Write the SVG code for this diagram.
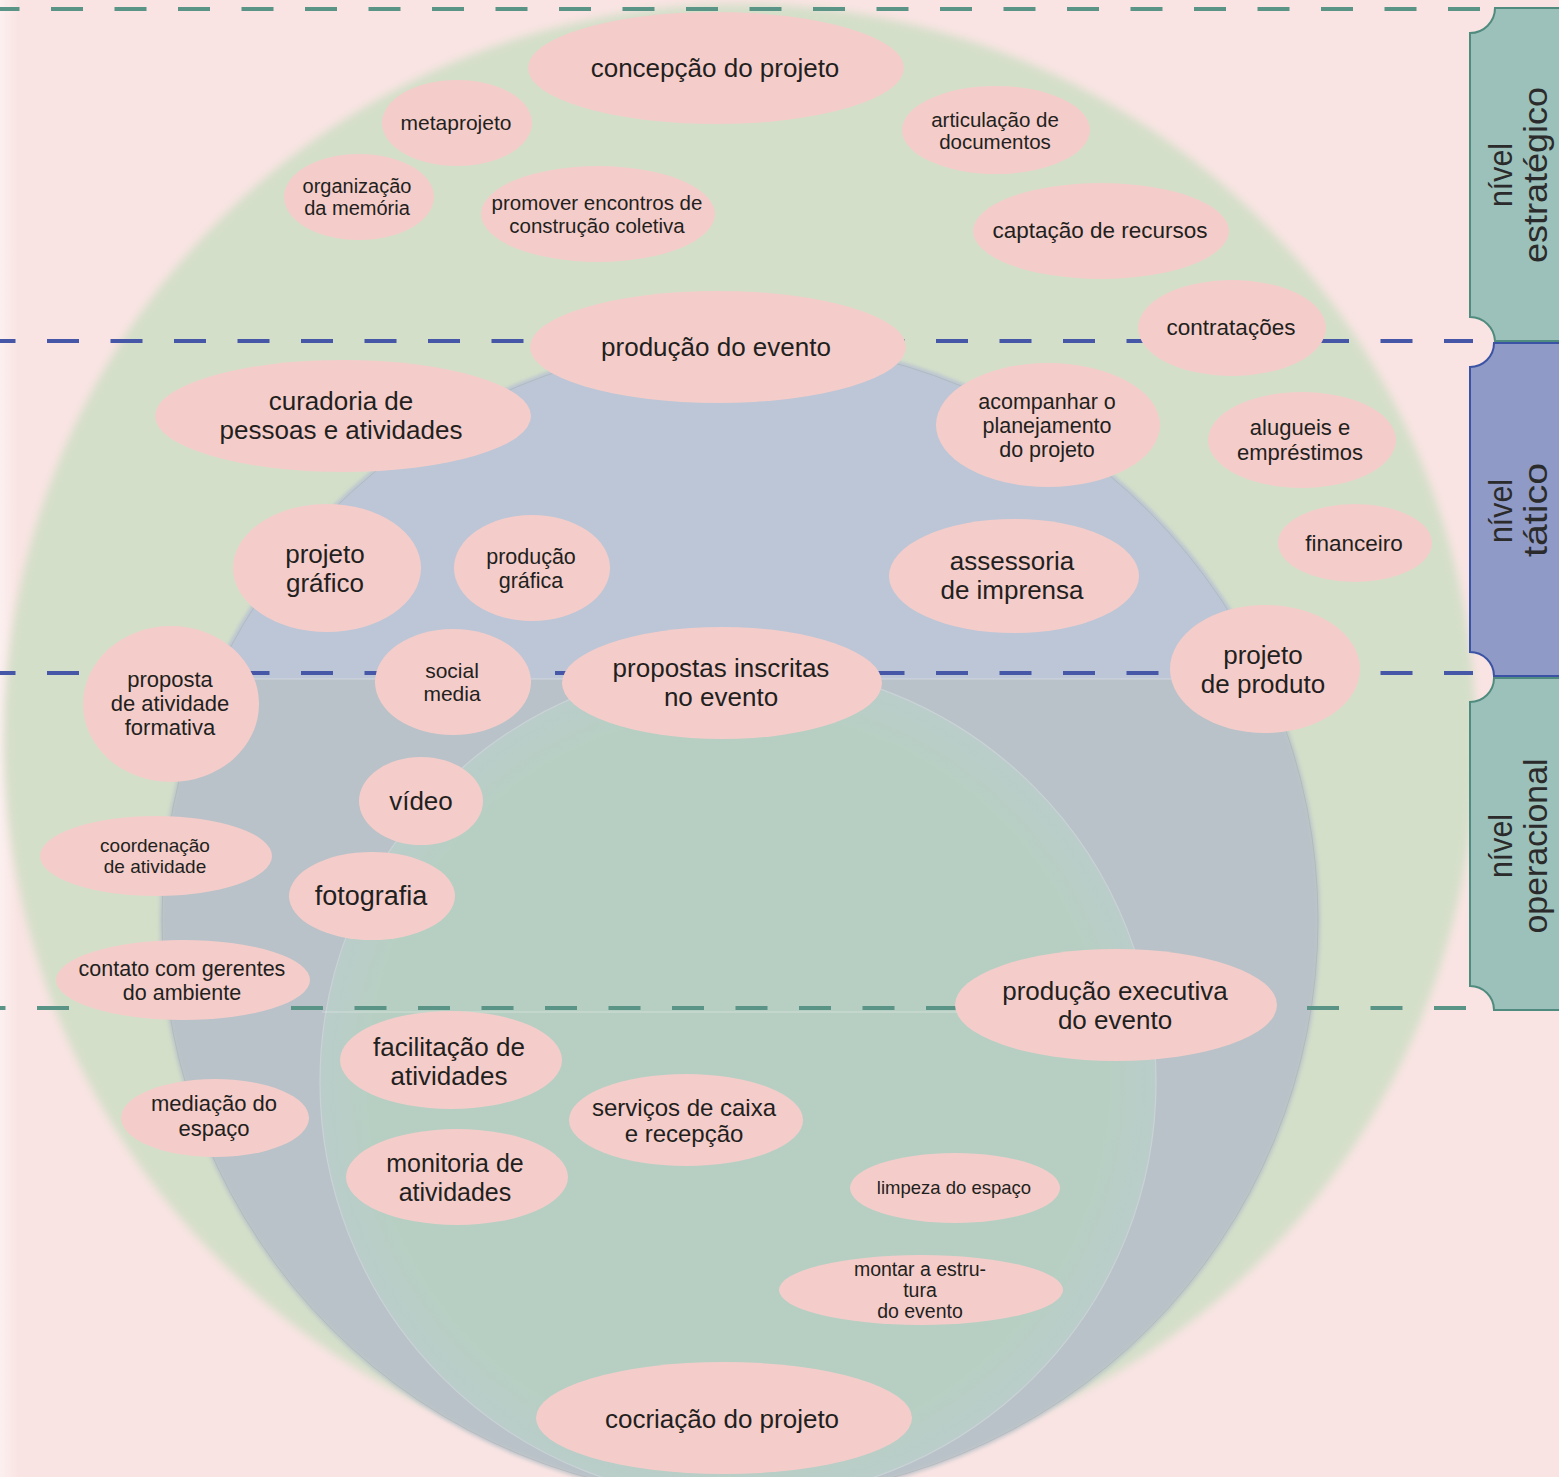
<svg xmlns="http://www.w3.org/2000/svg" width="1559" height="1477" viewBox="0 0 1559 1477">
<style>
.node ellipse{fill:#f4cdca}
.node text{font-family:"Liberation Sans",Arial,sans-serif;fill:#231f20;text-anchor:middle}
.l{font-size:26px}.s{font-size:21px}.m{font-size:22.5px}.xs{font-size:19px}
.dash{stroke-width:4;stroke-dasharray:32 31.5;fill:none}
.tab text{font-family:"Liberation Sans",Arial,sans-serif;font-size:34px;fill:#2b2b2b;text-anchor:middle}
</style>
<defs>
<filter id="soft" x="-5%" y="-5%" width="110%" height="110%"><feGaussianBlur stdDeviation="4"/></filter>
<filter id="soft2" x="-5%" y="-5%" width="110%" height="110%"><feGaussianBlur stdDeviation="2"/></filter>
<clipPath id="tact"><rect x="0" y="0" width="1559" height="679"/></clipPath>
<radialGradient id="inner" cx="738" cy="1082" r="418" gradientUnits="userSpaceOnUse">
<stop offset="0.88" stop-color="#b7cfc3"/><stop offset="1" stop-color="#bacdca"/>
</radialGradient>
<linearGradient id="leftfade" x1="0" x2="1" y1="0" y2="0">
<stop offset="0" stop-color="#ffffff" stop-opacity="0.45"/><stop offset="1" stop-color="#ffffff" stop-opacity="0"/>
</linearGradient>
</defs>
<rect width="1559" height="1477" fill="#f9e4e3"/>
<rect width="18" height="1477" fill="url(#leftfade)"/>
<g id="rings">
<circle cx="740" cy="740" r="736" fill="#d4dfc9" filter="url(#soft)"/>
<circle cx="740" cy="920" r="580" fill="#b9c2c8" filter="url(#soft2)"/>
<circle cx="740" cy="920" r="580" fill="#bcc6d6" clip-path="url(#tact)" filter="url(#soft2)"/>
<circle cx="740" cy="920" r="578" fill="none" stroke="#a3adb3" stroke-width="0.8" stroke-opacity="0.6"/>
<circle cx="738" cy="1082" r="418" fill="url(#inner)" stroke="#c9d3d6" stroke-width="1.2"/>
<line x1="168" y1="679" x2="1312" y2="679" stroke="#ffffff" stroke-opacity="0.35" stroke-width="1.2"/>
<line x1="322" y1="1012" x2="1154" y2="1012" stroke="#ffffff" stroke-opacity="0.35" stroke-width="1.2"/>
</g>
<g id="connectors">
<line class="dash" x1="0" y1="9" x2="1486" y2="9" stroke="#5a9486" stroke-dashoffset="12.5"/>
<line class="dash" x1="0" y1="341" x2="1473" y2="341" stroke="#4557a6" stroke-dashoffset="16.5"/>
<line class="dash" x1="0" y1="673" x2="1473" y2="673" stroke="#4557a6" stroke-dashoffset="16.5"/>
<line class="dash" x1="0" y1="1008" x2="1473" y2="1008" stroke="#5a9486" stroke-dashoffset="26.5"/>
</g>
<g id="n1" class="node"><ellipse cx="716" cy="68" rx="188" ry="56"/><text class="l" x="715" y="77">concepção do projeto</text></g>
<g id="n2" class="node"><ellipse cx="457" cy="123" rx="75" ry="43"/><text class="s" x="456" y="130">metaprojeto</text></g>
<g id="n3" class="node"><ellipse cx="359" cy="197" rx="75" ry="43"/><text class="s" style="font-size:20px" x="357"><tspan x="357" y="193">organização</tspan><tspan x="357" y="215">da memória</tspan></text></g>
<g id="n4" class="node"><ellipse cx="598" cy="214" rx="117" ry="48"/><text style="font-size:20.5px" x="597"><tspan x="597" y="210">promover encontros de</tspan><tspan x="597" y="233">construção coletiva</tspan></text></g>
<g id="n5" class="node"><ellipse cx="996" cy="130" rx="94" ry="44"/><text style="font-size:20.5px" x="995"><tspan x="995" y="127">articulação de</tspan><tspan x="995" y="149">documentos</tspan></text></g>
<g id="n6" class="node"><ellipse cx="1101" cy="231" rx="128" ry="48"/><text class="m" x="1100" y="238">captação de recursos</text></g>
<g id="n7" class="node"><ellipse cx="718" cy="347" rx="188" ry="56"/><text class="l" x="716" y="356">produção do evento</text></g>
<g id="n8" class="node"><ellipse cx="1232" cy="328" rx="94" ry="48"/><text class="m" x="1231" y="335">contratações</text></g>
<g id="n9" class="node"><ellipse cx="343" cy="416" rx="188" ry="56"/><text class="l" x="341"><tspan x="341" y="410">curadoria de</tspan><tspan x="341" y="439">pessoas e atividades</tspan></text></g>
<g id="n10" class="node"><ellipse cx="1048" cy="425" rx="112" ry="62"/><text style="font-size:21.5px" x="1047"><tspan x="1047" y="409">acompanhar o</tspan><tspan x="1047" y="433">planejamento</tspan><tspan x="1047" y="457">do projeto</tspan></text></g>
<g id="n11" class="node"><ellipse cx="1302" cy="440" rx="94" ry="48"/><text style="font-size:22px" x="1300"><tspan x="1300" y="435">alugueis e</tspan><tspan x="1300" y="460">empréstimos</tspan></text></g>
<g id="n12" class="node"><ellipse cx="1355" cy="543" rx="77" ry="39"/><text class="m" x="1354" y="551">financeiro</text></g>
<g id="n13" class="node"><ellipse cx="327" cy="568" rx="94" ry="64"/><text class="l" x="325"><tspan x="325" y="563">projeto</tspan><tspan x="325" y="592">gráfico</tspan></text></g>
<g id="n14" class="node"><ellipse cx="532" cy="568" rx="78" ry="53"/><text style="font-size:21.5px" x="531"><tspan x="531" y="564">produção</tspan><tspan x="531" y="588">gráfica</tspan></text></g>
<g id="n15" class="node"><ellipse cx="1014" cy="576" rx="125" ry="57"/><text class="l" x="1012"><tspan x="1012" y="570">assessoria</tspan><tspan x="1012" y="599">de imprensa</tspan></text></g>
<g id="n16" class="node"><ellipse cx="1265" cy="669" rx="95" ry="64"/><text class="l" x="1263"><tspan x="1263" y="664">projeto</tspan><tspan x="1263" y="693">de produto</tspan></text></g>
<g id="n17" class="node"><ellipse cx="171" cy="704" rx="88" ry="78"/><text style="font-size:22px" x="170"><tspan x="170" y="687">proposta</tspan><tspan x="170" y="711">de atividade</tspan><tspan x="170" y="735">formativa</tspan></text></g>
<g id="n18" class="node"><ellipse cx="453" cy="682" rx="78" ry="53"/><text class="s" x="452"><tspan x="452" y="678">social</tspan><tspan x="452" y="701">media</tspan></text></g>
<g id="n19" class="node"><ellipse cx="722" cy="683" rx="160" ry="56"/><text class="l" x="721"><tspan x="721" y="677">propostas inscritas</tspan><tspan x="721" y="706">no evento</tspan></text></g>
<g id="n20" class="node"><ellipse cx="421" cy="801" rx="62" ry="44"/><text class="l" x="421" y="810">vídeo</text></g>
<g id="n21" class="node"><ellipse cx="156" cy="856" rx="116" ry="40"/><text class="xs" x="155"><tspan x="155" y="852">coordenação</tspan><tspan x="155" y="873">de atividade</tspan></text></g>
<g id="n22" class="node"><ellipse cx="372" cy="896" rx="83" ry="44"/><text class="l" style="font-size:27px" x="371" y="905">fotografia</text></g>
<g id="n23" class="node"><ellipse cx="183" cy="980" rx="127" ry="40"/><text style="font-size:21.5px" x="182"><tspan x="182" y="976">contato com gerentes</tspan><tspan x="182" y="1000">do ambiente</tspan></text></g>
<g id="n24" class="node"><ellipse cx="1116" cy="1005" rx="161" ry="56"/><text class="l" x="1115"><tspan x="1115" y="1000">produção executiva</tspan><tspan x="1115" y="1029">do evento</tspan></text></g>
<g id="n25" class="node"><ellipse cx="451" cy="1060" rx="111" ry="49"/><text class="l" x="449"><tspan x="449" y="1056">facilitação de</tspan><tspan x="449" y="1085">atividades</tspan></text></g>
<g id="n26" class="node"><ellipse cx="215" cy="1118" rx="94" ry="39"/><text style="font-size:22px" x="214"><tspan x="214" y="1111">mediação do</tspan><tspan x="214" y="1136">espaço</tspan></text></g>
<g id="n27" class="node"><ellipse cx="686" cy="1120" rx="117" ry="46"/><text style="font-size:24px" x="684"><tspan x="684" y="1116">serviços de caixa</tspan><tspan x="684" y="1142">e recepção</tspan></text></g>
<g id="n28" class="node"><ellipse cx="457" cy="1177" rx="111" ry="48"/><text style="font-size:25px" x="455"><tspan x="455" y="1172">monitoria de</tspan><tspan x="455" y="1201">atividades</tspan></text></g>
<g id="n29" class="node"><ellipse cx="955" cy="1188" rx="105" ry="35"/><text style="font-size:18.5px" x="954" y="1194">limpeza do espaço</text></g>
<g id="n30" class="node"><ellipse cx="921" cy="1290" rx="142" ry="35"/><text style="font-size:19.5px" x="920"><tspan x="920" y="1276">montar a estru-</tspan><tspan x="920" y="1297">tura</tspan><tspan x="920" y="1318">do evento</tspan></text></g>
<g id="n31" class="node"><ellipse cx="724" cy="1418" rx="188" ry="56"/><text class="l" x="722" y="1428">cocriação do projeto</text></g>
<g id="tab-estrategico" class="tab">
<path d="M1470,33 A25,25 0 0 0 1495,8 L1575,8 L1575,341 L1495,341 A25,25 0 0 0 1470,317 Z" fill="#9cc1bb" stroke="#4f8b7e" stroke-width="2"/>
<text transform="translate(1512,175) rotate(-90)" textLength="64" lengthAdjust="spacingAndGlyphs">nível</text>
<text transform="translate(1547,175) rotate(-90)" textLength="176" lengthAdjust="spacingAndGlyphs">estratégico</text>
</g>
<g id="tab-tatico" class="tab">
<path d="M1470,367 A24,24 0 0 0 1494,343 L1575,343 L1575,676 L1494,676 A24,24 0 0 0 1470,652 Z" fill="#8f9ac6" stroke="#3b53a4" stroke-width="2"/>
<text transform="translate(1512,511) rotate(-90)" textLength="64" lengthAdjust="spacingAndGlyphs">nível</text>
<text transform="translate(1547,510) rotate(-90)" textLength="94" lengthAdjust="spacingAndGlyphs">tático</text>
</g>
<g id="tab-operacional" class="tab">
<path d="M1470,702 A24,24 0 0 0 1494,678 L1575,678 L1575,1010 L1494,1010 A24,24 0 0 0 1470,986 Z" fill="#9cc1bb" stroke="#4f8b7e" stroke-width="2"/>
<text transform="translate(1512,846) rotate(-90)" textLength="64" lengthAdjust="spacingAndGlyphs">nível</text>
<text transform="translate(1547,846) rotate(-90)" textLength="175" lengthAdjust="spacingAndGlyphs">operacional</text>
</g>
</svg>
